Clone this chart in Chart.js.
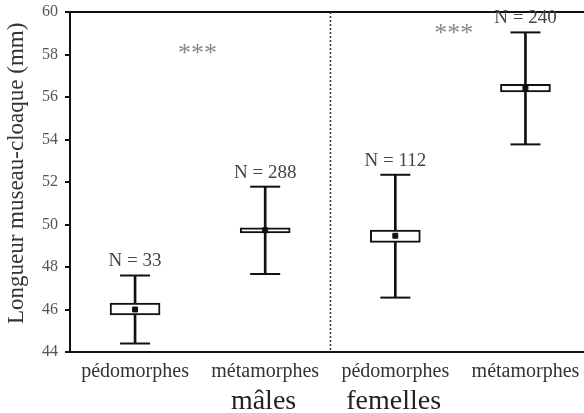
<!DOCTYPE html>
<html>
<head>
<meta charset="utf-8">
<script src="https://cdn.jsdelivr.net/npm/chart.js@4.4.0/dist/chart.umd.min.js"></script>
<style>
    html, body { margin: 0; padding: 0; background: #fff; }
    canvas { display: block; }
</style>
</head>
<body>
<canvas id="chart" width="584" height="413"></canvas>
<script>
// Data (mm)
const categories = ['pédomorphes', 'métamorphes', 'pédomorphes', 'métamorphes'];
const groups = ['mâles', 'femelles'];
const sampleSizes = [33, 288, 112, 240];
const means = [46.0, 49.73, 49.47, 56.42];
const boxLow = [45.74, 49.6, 49.16, 56.24];
const boxHigh = [46.3, 49.84, 49.74, 56.6];
const whiskerLow = [44.4, 47.67, 46.56, 53.77];
const whiskerHigh = [47.6, 51.78, 52.34, 59.04];
const yTicks = [44, 46, 48, 50, 52, 54, 56, 58, 60];
const signifX = [1.48, 3.45];
const signifY = [58.2, 59.15];

const SERIF = '"Liberation Serif", "DejaVu Serif", serif';
const xPos = categories.map((c, i) => i + 1);

// top border, divider between sexes, N labels and the *** marks
const extrasPlugin = {
    id: 'extras',
    beforeDatasetsDraw(chart) {
        const { ctx, chartArea } = chart;
        const x = chart.scales.x;
        ctx.save();
        ctx.strokeStyle = '#111';
        ctx.lineWidth = 2;
        ctx.beginPath();
        ctx.moveTo(chartArea.left, chartArea.top);
        ctx.lineTo(chartArea.right, chartArea.top);
        ctx.stroke();

        const xd = Math.round(x.getPixelForValue(2.5)) + 0.5;
        ctx.strokeStyle = '#333';
        ctx.lineWidth = 1.5;
        ctx.setLineDash([2, 2]);
        ctx.beginPath();
        ctx.moveTo(xd, chartArea.top);
        ctx.lineTo(xd, chartArea.bottom);
        ctx.stroke();
        ctx.restore();
    },
    afterDatasetsDraw(chart) {
        const { ctx } = chart;
        const x = chart.scales.x;
        const y = chart.scales.y;
        ctx.save();
        ctx.textAlign = 'center';
        ctx.textBaseline = 'middle';
        ctx.fillStyle = '#444';
        ctx.font = '19px ' + SERIF;
        sampleSizes.forEach((n, i) => {
            ctx.fillText('N = ' + n, x.getPixelForValue(xPos[i]), y.getPixelForValue(whiskerHigh[i]) - 14);
        });
        ctx.fillStyle = '#888';
        ctx.font = '26px ' + SERIF;
        signifX.forEach((sx, i) => {
            ctx.fillText('***', x.getPixelForValue(sx), y.getPixelForValue(signifY[i]) + 4);
        });
        ctx.restore();
    }
};

new Chart(document.getElementById('chart'), {
    type: 'bar',
    data: {
        datasets: [
            {
                // whisker stem
                data: xPos.map((v, i) => ({ x: v, y: [whiskerLow[i], whiskerHigh[i]] })),
                backgroundColor: '#111',
                barThickness: 2,
                grouped: false,
                borderSkipped: false,
                order: 4
            },
            {
                // box
                data: xPos.map((v, i) => ({ x: v, y: [boxLow[i], boxHigh[i]] })),
                backgroundColor: '#fff',
                borderColor: '#111',
                borderWidth: 2,
                barThickness: 50,
                grouped: false,
                borderSkipped: false,
                order: 3
            },
            {
                // whisker caps
                type: 'scatter',
                data: xPos.flatMap((v, i) => [{ x: v, y: whiskerLow[i] }, { x: v, y: whiskerHigh[i] }]),
                pointStyle: 'line',
                pointRadius: 15,
                borderColor: '#111',
                pointBorderWidth: 2,
                order: 2
            },
            {
                // mean
                type: 'scatter',
                data: xPos.map((v, i) => ({ x: v, y: means[i] })),
                pointStyle: 'rect',
                pointRadius: 3.5,
                backgroundColor: '#111',
                borderColor: '#111',
                pointBorderWidth: 1,
                order: 1
            }
        ]
    },
    options: {
        responsive: false,
        animation: false,
        layout: {
            autoPadding: false,
            padding: { top: 12, right: 0, left: 0, bottom: 0 }
        },
        plugins: {
            legend: { display: false },
            tooltip: { enabled: false }
        },
        scales: {
            x: {
                type: 'linear',
                position: 'bottom',
                min: 0.5,
                max: 4.45,
                offset: false,
                weight: 0,
                afterBuildTicks: (s) => { s.ticks = xPos.map(v => ({ value: v })); },
                afterFit: (s) => {
                    s.height = 33;
                    s.paddingLeft = 0;
                    s.paddingRight = 0;
                },
                ticks: {
                    callback: (v, i) => categories[i],
                    font: { family: SERIF, size: 20 },
                    color: '#333',
                    padding: 8,
                    maxRotation: 0
                },
                grid: { display: false, drawTicks: false },
                border: { display: true, color: '#111', width: 2 }
            },
            x2: {
                type: 'linear',
                position: 'bottom',
                min: 0.5,
                max: 4.45,
                weight: 1,
                afterBuildTicks: (s) => { s.ticks = [{ value: 1.5 }, { value: 3.5 }]; },
                afterFit: (s) => {
                    s.height = 28;
                    s.paddingLeft = 0;
                    s.paddingRight = 0;
                },
                ticks: {
                    callback: (v, i) => groups[i],
                    font: { family: SERIF, size: 28 },
                    color: '#222',
                    padding: 0,
                    maxRotation: 0
                },
                grid: { display: false, drawTicks: false },
                border: { display: false }
            },
            y: {
                type: 'linear',
                min: 44,
                max: 60,
                afterBuildTicks: (s) => { s.ticks = yTicks.map(v => ({ value: v })); },
                afterFit: (s) => {
                    s.width = 70;
                    s.paddingTop = 0;
                    s.paddingBottom = 0;
                },
                ticks: {
                    font: { family: SERIF, size: 16 },
                    color: '#555',
                    padding: 7
                },
                grid: {
                    drawOnChartArea: false,
                    drawTicks: true,
                    tickLength: 5,
                    color: '#111',
                    lineWidth: 2
                },
                border: { display: true, color: '#111', width: 2 },
                title: {
                    display: true,
                    text: '\u00A0\u00A0\u00A0Longueur museau-cloaque (mm)',
                    font: { family: SERIF, size: 23 },
                    color: '#333',
                    padding: { top: 3, bottom: 0 }
                }
            }
        }
    },
    plugins: [extrasPlugin]
});
</script>
</body>
</html>
